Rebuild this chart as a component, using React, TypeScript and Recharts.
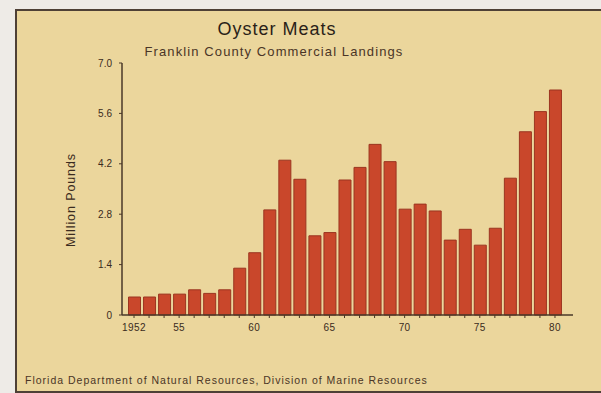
import { BarChart, Bar, XAxis, YAxis } from "recharts";

// Franklin County oyster meat landings, million pounds
const years = [
  1952, 1953, 1954, 1955, 1956, 1957, 1958, 1959, 1960, 1961, 1962, 1963, 1964,
  1965, 1966, 1967, 1968, 1969, 1970, 1971, 1972, 1973, 1974, 1975, 1976, 1977,
  1978, 1979, 1980,
];
const landings = [
  0.5, 0.5, 0.58, 0.58, 0.7, 0.6, 0.7, 1.3, 1.73, 2.92, 4.3, 3.77, 2.2, 2.29,
  3.75, 4.1, 4.74, 4.26, 2.94, 3.08, 2.89, 2.08, 2.38, 1.94, 2.41, 3.8, 5.09,
  5.65, 6.25,
];
const yTicks = [0, 1.4, 2.8, 4.2, 5.6, 7.0];
const yTickLabels = ["0", "1.4", "2.8", "4.2", "5.6", "7.0"];
const labelledYears = [1952, 1955, 1960, 1965, 1970, 1975, 1980];
const xTickLabels = ["1952", "55", "60", "65", "70", "75", "80"];

const data = years.map((year, i) => ({ year, value: landings[i] }));

const FONT = "'Liberation Sans', Arial, Helvetica, sans-serif";
const INK = "#3a2b20";
const PAPER = "#ebd69c";
const BAR = "#c9472b";
const BAR_EDGE = "#9b3520";

const xLabel = (v: number) => {
  const i = labelledYears.indexOf(v);
  return i >= 0 ? xTickLabels[i] : "";
};
const yLabel = (v: number) => {
  const i = yTicks.indexOf(v);
  return i >= 0 ? yTickLabels[i] : String(v);
};

export default function App() {
  return (
    <div
      style={{
        position: "absolute",
        left: 0,
        top: 0,
        width: 601,
        height: 393,
        background: "#eeebe7",
        overflow: "hidden",
        fontFamily: FONT,
      }}
    >
      <div
        style={{
          position: "absolute",
          left: 15,
          top: 9,
          width: 600,
          height: 380,
          background: PAPER,
          border: "2px solid #4e4036",
        }}
      />
      <div
        style={{
          position: "absolute",
          left: 0,
          width: 554,
          top: 19,
          textAlign: "center",
          fontSize: 18,
          letterSpacing: 1,
          color: "#2a1f18",
        }}
      >
        Oyster Meats
      </div>
      <div
        style={{
          position: "absolute",
          left: 0,
          width: 548,
          top: 44,
          textAlign: "center",
          fontSize: 13,
          letterSpacing: 1.1,
          color: "#4a3526",
        }}
      >
        Franklin County Commercial Landings
      </div>
      <div
        style={{
          position: "absolute",
          left: 25,
          top: 374,
          fontSize: 10.5,
          letterSpacing: 1,
          color: "#4a3526",
          whiteSpace: "nowrap",
        }}
      >
        Florida Department of Natural Resources, Division of Marine Resources
      </div>
      <div
        style={{
          position: "absolute",
          left: 71,
          top: 200,
          transform: "translate(-50%, -50%) rotate(-90deg)",
          fontSize: 12.5,
          letterSpacing: 0.9,
          color: INK,
          whiteSpace: "nowrap",
        }}
      >
        Million Pounds
      </div>
      <div style={{ position: "absolute", left: 0, top: 0 }}>
        <BarChart
          width={601}
          height={393}
          data={data}
          margin={{ top: 63, right: 28, bottom: 48, left: 0 }}
        >
          <XAxis
            dataKey="year"
            type="category"
            height={30}
            interval={0}
            padding={{ left: 4.5, right: 10.5 }}
            tickFormatter={xLabel}
            tickSize={3}
            tickMargin={6}
            axisLine={{ stroke: "#4a3828", strokeWidth: 1.5 }}
            tickLine={{ stroke: "#4a3828" }}
            tick={{ fill: INK, fontSize: 10, letterSpacing: 0.4, fontFamily: FONT }}
          />
          <YAxis
            width={122}
            domain={[0, 7]}
            ticks={yTicks}
            interval={0}
            tickFormatter={yLabel}
            tickSize={3}
            tickMargin={7}
            axisLine={{ stroke: "#4a3828", strokeWidth: 1.5 }}
            tickLine={{ stroke: "#4a3828" }}
            tick={{ fill: INK, fontSize: 10, fontFamily: FONT }}
          />
          <Bar
            dataKey="value"
            barSize={12}
            fill={BAR}
            stroke={BAR_EDGE}
            strokeWidth={1}
            isAnimationActive={false}
          />
        </BarChart>
      </div>
    </div>
  );
}
